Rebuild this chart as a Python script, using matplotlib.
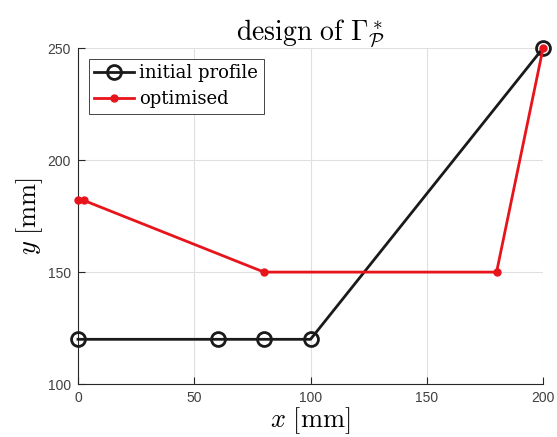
import matplotlib
matplotlib.use("Agg")
import matplotlib.pyplot as plt

init_x = [0, 60, 80, 100, 200]
init_y = [120, 120, 120, 120, 250]
opt_x = [0, 2.5, 80, 180, 200]
opt_y = [182, 182, 150, 150, 250]
xticks = [0, 50, 100, 150, 200]
yticks = [100, 150, 200, 250]

plt.rcParams['mathtext.fontset'] = 'cm'
plt.rcParams['font.family'] = ['Liberation Sans', 'DejaVu Sans']

fig = plt.figure(figsize=(5.57, 4.37), dpi=100)
ax = fig.add_axes([0.140, 0.121, 0.835, 0.769])

ax.plot(init_x, init_y, color='#1a1a1a', lw=2, marker='o', ms=10, mfc='none', mew=2,
        label='initial profile', zorder=3, clip_on=False)
ax.plot(opt_x, opt_y, color='#e8141c', lw=2, marker='o', ms=5, mfc='#e8141c', mec='#e8141c',
        label='optimised', zorder=4, clip_on=False)

ax.set_xlim(0, 200)
ax.set_ylim(100, 250)
ax.set_xticks(xticks)
ax.set_yticks(yticks)
ax.grid(True, color='#e0e0e0', lw=0.8)
ax.set_axisbelow(True)
for s in ['top', 'right']:
    ax.spines[s].set_visible(False)
for s in ['left', 'bottom']:
    ax.spines[s].set_color('#262626')
    ax.spines[s].set_linewidth(0.8)
ax.tick_params(direction='in', length=5, colors='#262626', labelcolor='#404040',
               labelsize=10, pad=5)

ax.set_xlabel(r'$x\ [\mathrm{mm}]$', fontsize=19, labelpad=0)
ax.set_ylabel(r'$y\ [\mathrm{mm}]$', fontsize=19, labelpad=2)
ax.set_title(r'$\mathrm{design\ of}\ \Gamma^*_{\mathcal{P}}$', fontsize=20, pad=6)

leg = ax.legend(loc='upper left', prop={'family': 'DejaVu Serif', 'size': 13},
                fancybox=False, edgecolor='#262626', framealpha=1, handlelength=2.2,
                borderaxespad=0.6, borderpad=0.3, labelspacing=0.45, handletextpad=0.3)
leg.get_frame().set_linewidth(0.6)

fig.savefig('out.png', dpi=100)
